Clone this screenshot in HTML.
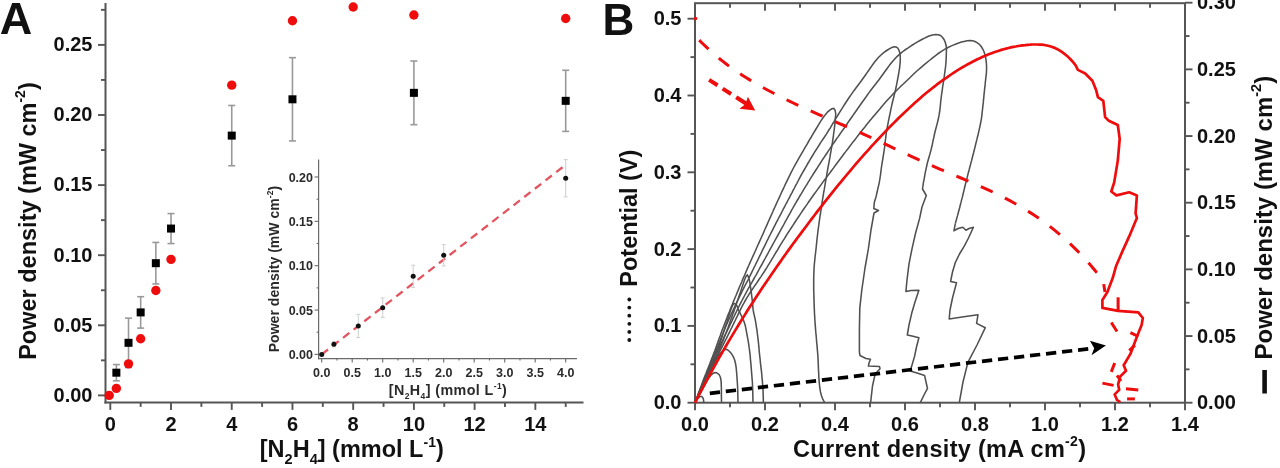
<!DOCTYPE html>
<html><head><meta charset="utf-8"><style>
html,body{margin:0;padding:0;background:#fff;}
svg{display:block;filter:blur(0.55px);font-family:"Liberation Sans",sans-serif;font-weight:bold;}
</style></head><body>
<svg width="1280" height="468" viewBox="0 0 1280 468">
<rect width="1280" height="468" fill="#fff"/>
<text x="-0.30" y="34.20" font-size="45" text-anchor="start" fill="#111" >A</text>
<line x1="105.50" y1="3.00" x2="105.50" y2="403.40" stroke="#555555" stroke-width="2.0" />
<line x1="104.50" y1="402.40" x2="583.50" y2="402.40" stroke="#555555" stroke-width="2.0" />
<line x1="98.00" y1="395.40" x2="105.50" y2="395.40" stroke="#555555" stroke-width="1.9" />
<text x="92.50" y="401.70" font-size="20" text-anchor="end" fill="#111" >0.00</text>
<line x1="101.00" y1="360.35" x2="105.50" y2="360.35" stroke="#555555" stroke-width="1.9" />
<line x1="98.00" y1="325.30" x2="105.50" y2="325.30" stroke="#555555" stroke-width="1.9" />
<text x="92.50" y="331.60" font-size="20" text-anchor="end" fill="#111" >0.05</text>
<line x1="101.00" y1="290.25" x2="105.50" y2="290.25" stroke="#555555" stroke-width="1.9" />
<line x1="98.00" y1="255.20" x2="105.50" y2="255.20" stroke="#555555" stroke-width="1.9" />
<text x="92.50" y="261.50" font-size="20" text-anchor="end" fill="#111" >0.10</text>
<line x1="101.00" y1="220.15" x2="105.50" y2="220.15" stroke="#555555" stroke-width="1.9" />
<line x1="98.00" y1="185.10" x2="105.50" y2="185.10" stroke="#555555" stroke-width="1.9" />
<text x="92.50" y="191.40" font-size="20" text-anchor="end" fill="#111" >0.15</text>
<line x1="101.00" y1="150.05" x2="105.50" y2="150.05" stroke="#555555" stroke-width="1.9" />
<line x1="98.00" y1="115.00" x2="105.50" y2="115.00" stroke="#555555" stroke-width="1.9" />
<text x="92.50" y="121.30" font-size="20" text-anchor="end" fill="#111" >0.20</text>
<line x1="101.00" y1="79.95" x2="105.50" y2="79.95" stroke="#555555" stroke-width="1.9" />
<line x1="98.00" y1="44.90" x2="105.50" y2="44.90" stroke="#555555" stroke-width="1.9" />
<text x="92.50" y="51.20" font-size="20" text-anchor="end" fill="#111" >0.25</text>
<line x1="101.00" y1="9.85" x2="105.50" y2="9.85" stroke="#555555" stroke-width="1.9" />
<line x1="110.30" y1="402.40" x2="110.30" y2="409.90" stroke="#555555" stroke-width="1.9" />
<text x="110.30" y="430.60" font-size="20" text-anchor="middle" fill="#111" >0</text>
<line x1="140.66" y1="402.40" x2="140.66" y2="406.90" stroke="#555555" stroke-width="1.9" />
<line x1="171.02" y1="402.40" x2="171.02" y2="409.90" stroke="#555555" stroke-width="1.9" />
<text x="171.02" y="430.60" font-size="20" text-anchor="middle" fill="#111" >2</text>
<line x1="201.38" y1="402.40" x2="201.38" y2="406.90" stroke="#555555" stroke-width="1.9" />
<line x1="231.74" y1="402.40" x2="231.74" y2="409.90" stroke="#555555" stroke-width="1.9" />
<text x="231.74" y="430.60" font-size="20" text-anchor="middle" fill="#111" >4</text>
<line x1="262.10" y1="402.40" x2="262.10" y2="406.90" stroke="#555555" stroke-width="1.9" />
<line x1="292.46" y1="402.40" x2="292.46" y2="409.90" stroke="#555555" stroke-width="1.9" />
<text x="292.46" y="430.60" font-size="20" text-anchor="middle" fill="#111" >6</text>
<line x1="322.82" y1="402.40" x2="322.82" y2="406.90" stroke="#555555" stroke-width="1.9" />
<line x1="353.18" y1="402.40" x2="353.18" y2="409.90" stroke="#555555" stroke-width="1.9" />
<text x="353.18" y="430.60" font-size="20" text-anchor="middle" fill="#111" >8</text>
<line x1="383.54" y1="402.40" x2="383.54" y2="406.90" stroke="#555555" stroke-width="1.9" />
<line x1="413.90" y1="402.40" x2="413.90" y2="409.90" stroke="#555555" stroke-width="1.9" />
<text x="413.90" y="430.60" font-size="20" text-anchor="middle" fill="#111" >10</text>
<line x1="444.26" y1="402.40" x2="444.26" y2="406.90" stroke="#555555" stroke-width="1.9" />
<line x1="474.62" y1="402.40" x2="474.62" y2="409.90" stroke="#555555" stroke-width="1.9" />
<text x="474.62" y="430.60" font-size="20" text-anchor="middle" fill="#111" >12</text>
<line x1="504.98" y1="402.40" x2="504.98" y2="406.90" stroke="#555555" stroke-width="1.9" />
<line x1="535.34" y1="402.40" x2="535.34" y2="409.90" stroke="#555555" stroke-width="1.9" />
<text x="535.34" y="430.60" font-size="20" text-anchor="middle" fill="#111" >14</text>
<line x1="565.70" y1="402.40" x2="565.70" y2="406.90" stroke="#555555" stroke-width="1.9" />
<text x="259.80" y="457.00" font-size="23.5" text-anchor="start" fill="#111" >[N<tspan dy="7" font-size="14.5">2</tspan><tspan dy="-7">H</tspan><tspan dy="7" font-size="14.5">4</tspan><tspan dy="-7">] (mmol L</tspan><tspan dy="-10.5" font-size="14">-1</tspan><tspan dy="10.5">)</tspan></text>
<text transform="translate(36.3,359.8) rotate(-90)" font-size="23.5" fill="#111">Power density (mW cm<tspan dy="-11" font-size="14">-2</tspan><tspan dy="11">)</tspan></text>
<line x1="116.37" y1="364.56" x2="116.37" y2="380.82" stroke="#999999" stroke-width="1.6" />
<line x1="112.87" y1="364.56" x2="119.87" y2="364.56" stroke="#999999" stroke-width="1.6" />
<line x1="112.87" y1="380.82" x2="119.87" y2="380.82" stroke="#999999" stroke-width="1.6" />
<line x1="128.52" y1="318.15" x2="128.52" y2="367.50" stroke="#999999" stroke-width="1.6" />
<line x1="125.02" y1="318.15" x2="132.02" y2="318.15" stroke="#999999" stroke-width="1.6" />
<line x1="125.02" y1="367.50" x2="132.02" y2="367.50" stroke="#999999" stroke-width="1.6" />
<line x1="140.66" y1="296.70" x2="140.66" y2="328.10" stroke="#999999" stroke-width="1.6" />
<line x1="137.16" y1="296.70" x2="144.16" y2="296.70" stroke="#999999" stroke-width="1.6" />
<line x1="137.16" y1="328.10" x2="144.16" y2="328.10" stroke="#999999" stroke-width="1.6" />
<line x1="155.84" y1="242.44" x2="155.84" y2="283.94" stroke="#999999" stroke-width="1.6" />
<line x1="152.34" y1="242.44" x2="159.34" y2="242.44" stroke="#999999" stroke-width="1.6" />
<line x1="152.34" y1="283.94" x2="159.34" y2="283.94" stroke="#999999" stroke-width="1.6" />
<line x1="171.02" y1="213.56" x2="171.02" y2="243.56" stroke="#999999" stroke-width="1.6" />
<line x1="167.52" y1="213.56" x2="174.52" y2="213.56" stroke="#999999" stroke-width="1.6" />
<line x1="167.52" y1="243.56" x2="174.52" y2="243.56" stroke="#999999" stroke-width="1.6" />
<line x1="231.74" y1="105.47" x2="231.74" y2="165.75" stroke="#999999" stroke-width="1.6" />
<line x1="228.24" y1="105.47" x2="235.24" y2="105.47" stroke="#999999" stroke-width="1.6" />
<line x1="228.24" y1="165.75" x2="235.24" y2="165.75" stroke="#999999" stroke-width="1.6" />
<line x1="292.46" y1="57.66" x2="292.46" y2="140.94" stroke="#999999" stroke-width="1.6" />
<line x1="288.96" y1="57.66" x2="295.96" y2="57.66" stroke="#999999" stroke-width="1.6" />
<line x1="288.96" y1="140.94" x2="295.96" y2="140.94" stroke="#999999" stroke-width="1.6" />
<line x1="413.90" y1="61.02" x2="413.90" y2="124.67" stroke="#999999" stroke-width="1.6" />
<line x1="410.40" y1="61.02" x2="417.40" y2="61.02" stroke="#999999" stroke-width="1.6" />
<line x1="410.40" y1="124.67" x2="417.40" y2="124.67" stroke="#999999" stroke-width="1.6" />
<line x1="565.70" y1="70.28" x2="565.70" y2="131.40" stroke="#999999" stroke-width="1.6" />
<line x1="562.20" y1="70.28" x2="569.20" y2="70.28" stroke="#999999" stroke-width="1.6" />
<line x1="562.20" y1="131.40" x2="569.20" y2="131.40" stroke="#999999" stroke-width="1.6" />
<circle cx="109.20" cy="395.40" r="4.7" fill="#ee0c0c"/>
<circle cx="116.37" cy="388.39" r="4.7" fill="#ee0c0c"/>
<circle cx="128.52" cy="363.85" r="4.7" fill="#ee0c0c"/>
<circle cx="140.66" cy="338.76" r="4.7" fill="#ee0c0c"/>
<circle cx="155.84" cy="290.53" r="4.7" fill="#ee0c0c"/>
<circle cx="171.02" cy="259.41" r="4.7" fill="#ee0c0c"/>
<circle cx="231.74" cy="85.14" r="4.7" fill="#ee0c0c"/>
<circle cx="292.46" cy="20.79" r="4.7" fill="#ee0c0c"/>
<circle cx="353.18" cy="7.05" r="4.7" fill="#ee0c0c"/>
<circle cx="413.90" cy="15.04" r="4.7" fill="#ee0c0c"/>
<circle cx="565.70" cy="18.54" r="4.7" fill="#ee0c0c"/>
<rect x="112.37" y="368.69" width="8" height="8" fill="#000"/>
<rect x="124.52" y="338.82" width="8" height="8" fill="#000"/>
<rect x="136.66" y="308.40" width="8" height="8" fill="#000"/>
<rect x="151.84" y="259.19" width="8" height="8" fill="#000"/>
<rect x="167.02" y="224.56" width="8" height="8" fill="#000"/>
<rect x="227.74" y="131.61" width="8" height="8" fill="#000"/>
<rect x="288.46" y="95.30" width="8" height="8" fill="#000"/>
<rect x="409.90" y="88.85" width="8" height="8" fill="#000"/>
<rect x="561.70" y="96.84" width="8" height="8" fill="#000"/>
<line x1="318.60" y1="159.50" x2="318.60" y2="359.20" stroke="#6a6a6a" stroke-width="1.2" />
<line x1="318.00" y1="358.60" x2="577.00" y2="358.60" stroke="#6a6a6a" stroke-width="1.2" />
<line x1="314.60" y1="354.40" x2="318.60" y2="354.40" stroke="#6a6a6a" stroke-width="1.1" />
<text x="313.00" y="358.90" font-size="12.5" text-anchor="end" fill="#2a2a2a" >0.00</text>
<line x1="316.60" y1="332.22" x2="318.60" y2="332.22" stroke="#6a6a6a" stroke-width="1.1" />
<line x1="314.60" y1="310.05" x2="318.60" y2="310.05" stroke="#6a6a6a" stroke-width="1.1" />
<text x="313.00" y="314.55" font-size="12.5" text-anchor="end" fill="#2a2a2a" >0.05</text>
<line x1="316.60" y1="287.88" x2="318.60" y2="287.88" stroke="#6a6a6a" stroke-width="1.1" />
<line x1="314.60" y1="265.70" x2="318.60" y2="265.70" stroke="#6a6a6a" stroke-width="1.1" />
<text x="313.00" y="270.20" font-size="12.5" text-anchor="end" fill="#2a2a2a" >0.10</text>
<line x1="316.60" y1="243.52" x2="318.60" y2="243.52" stroke="#6a6a6a" stroke-width="1.1" />
<line x1="314.60" y1="221.35" x2="318.60" y2="221.35" stroke="#6a6a6a" stroke-width="1.1" />
<text x="313.00" y="225.85" font-size="12.5" text-anchor="end" fill="#2a2a2a" >0.15</text>
<line x1="316.60" y1="199.17" x2="318.60" y2="199.17" stroke="#6a6a6a" stroke-width="1.1" />
<line x1="314.60" y1="177.00" x2="318.60" y2="177.00" stroke="#6a6a6a" stroke-width="1.1" />
<text x="313.00" y="181.50" font-size="12.5" text-anchor="end" fill="#2a2a2a" >0.20</text>
<line x1="321.70" y1="358.60" x2="321.70" y2="362.60" stroke="#6a6a6a" stroke-width="1.1" />
<text x="321.70" y="376.80" font-size="12.5" text-anchor="middle" fill="#2a2a2a" >0.0</text>
<line x1="336.95" y1="358.60" x2="336.95" y2="360.60" stroke="#6a6a6a" stroke-width="1.1" />
<line x1="352.20" y1="358.60" x2="352.20" y2="362.60" stroke="#6a6a6a" stroke-width="1.1" />
<text x="352.20" y="376.80" font-size="12.5" text-anchor="middle" fill="#2a2a2a" >0.5</text>
<line x1="367.45" y1="358.60" x2="367.45" y2="360.60" stroke="#6a6a6a" stroke-width="1.1" />
<line x1="382.70" y1="358.60" x2="382.70" y2="362.60" stroke="#6a6a6a" stroke-width="1.1" />
<text x="382.70" y="376.80" font-size="12.5" text-anchor="middle" fill="#2a2a2a" >1.0</text>
<line x1="397.95" y1="358.60" x2="397.95" y2="360.60" stroke="#6a6a6a" stroke-width="1.1" />
<line x1="413.20" y1="358.60" x2="413.20" y2="362.60" stroke="#6a6a6a" stroke-width="1.1" />
<text x="413.20" y="376.80" font-size="12.5" text-anchor="middle" fill="#2a2a2a" >1.5</text>
<line x1="428.45" y1="358.60" x2="428.45" y2="360.60" stroke="#6a6a6a" stroke-width="1.1" />
<line x1="443.70" y1="358.60" x2="443.70" y2="362.60" stroke="#6a6a6a" stroke-width="1.1" />
<text x="443.70" y="376.80" font-size="12.5" text-anchor="middle" fill="#2a2a2a" >2.0</text>
<line x1="458.95" y1="358.60" x2="458.95" y2="360.60" stroke="#6a6a6a" stroke-width="1.1" />
<line x1="474.20" y1="358.60" x2="474.20" y2="362.60" stroke="#6a6a6a" stroke-width="1.1" />
<text x="474.20" y="376.80" font-size="12.5" text-anchor="middle" fill="#2a2a2a" >2.5</text>
<line x1="489.45" y1="358.60" x2="489.45" y2="360.60" stroke="#6a6a6a" stroke-width="1.1" />
<line x1="504.70" y1="358.60" x2="504.70" y2="362.60" stroke="#6a6a6a" stroke-width="1.1" />
<text x="504.70" y="376.80" font-size="12.5" text-anchor="middle" fill="#2a2a2a" >3.0</text>
<line x1="519.95" y1="358.60" x2="519.95" y2="360.60" stroke="#6a6a6a" stroke-width="1.1" />
<line x1="535.20" y1="358.60" x2="535.20" y2="362.60" stroke="#6a6a6a" stroke-width="1.1" />
<text x="535.20" y="376.80" font-size="12.5" text-anchor="middle" fill="#2a2a2a" >3.5</text>
<line x1="550.45" y1="358.60" x2="550.45" y2="360.60" stroke="#6a6a6a" stroke-width="1.1" />
<line x1="565.70" y1="358.60" x2="565.70" y2="362.60" stroke="#6a6a6a" stroke-width="1.1" />
<text x="565.70" y="376.80" font-size="12.5" text-anchor="middle" fill="#2a2a2a" >4.0</text>
<text x="388.80" y="395.20" font-size="14.3" text-anchor="start" fill="#2a2a2a" textLength="118" lengthAdjust="spacing">[N<tspan dy="4" font-size="8.5">2</tspan><tspan dy="-4">H</tspan><tspan dy="4" font-size="8.5">4</tspan><tspan dy="-4">] (mmol L</tspan><tspan dy="-6" font-size="8.5">-1</tspan><tspan dy="6">)</tspan></text>
<text transform="translate(279.2,352.3) rotate(-90)" font-size="14" fill="#2a2a2a" textLength="166.5" lengthAdjust="spacing">Power density (mW cm<tspan dy="-6" font-size="8.5">-2</tspan><tspan dy="6">)</tspan></text>
<line x1="321.70" y1="354.40" x2="564.9" y2="165.4" stroke="#e25560" stroke-width="2.3" stroke-dasharray="8 5.5"/>
<line x1="333.90" y1="341.54" x2="333.90" y2="346.86" stroke="#d2d2d2" stroke-width="1.1" />
<line x1="331.90" y1="341.54" x2="335.90" y2="341.54" stroke="#d2d2d2" stroke-width="1.1" />
<line x1="331.90" y1="346.86" x2="335.90" y2="346.86" stroke="#d2d2d2" stroke-width="1.1" />
<line x1="358.30" y1="314.48" x2="358.30" y2="337.55" stroke="#d2d2d2" stroke-width="1.1" />
<line x1="356.30" y1="314.48" x2="360.30" y2="314.48" stroke="#d2d2d2" stroke-width="1.1" />
<line x1="356.30" y1="337.55" x2="360.30" y2="337.55" stroke="#d2d2d2" stroke-width="1.1" />
<line x1="382.70" y1="297.90" x2="382.70" y2="317.41" stroke="#d2d2d2" stroke-width="1.1" />
<line x1="380.70" y1="297.90" x2="384.70" y2="297.90" stroke="#d2d2d2" stroke-width="1.1" />
<line x1="380.70" y1="317.41" x2="384.70" y2="317.41" stroke="#d2d2d2" stroke-width="1.1" />
<line x1="413.20" y1="265.26" x2="413.20" y2="287.43" stroke="#d2d2d2" stroke-width="1.1" />
<line x1="411.20" y1="265.26" x2="415.20" y2="265.26" stroke="#d2d2d2" stroke-width="1.1" />
<line x1="411.20" y1="287.43" x2="415.20" y2="287.43" stroke="#d2d2d2" stroke-width="1.1" />
<line x1="443.70" y1="244.68" x2="443.70" y2="265.97" stroke="#d2d2d2" stroke-width="1.1" />
<line x1="441.70" y1="244.68" x2="445.70" y2="244.68" stroke="#d2d2d2" stroke-width="1.1" />
<line x1="441.70" y1="265.97" x2="445.70" y2="265.97" stroke="#d2d2d2" stroke-width="1.1" />
<line x1="565.70" y1="159.61" x2="565.70" y2="196.87" stroke="#d2d2d2" stroke-width="1.1" />
<line x1="563.70" y1="159.61" x2="567.70" y2="159.61" stroke="#d2d2d2" stroke-width="1.1" />
<line x1="563.70" y1="196.87" x2="567.70" y2="196.87" stroke="#d2d2d2" stroke-width="1.1" />
<circle cx="321.70" cy="354.40" r="2.5" fill="#111"/>
<circle cx="333.90" cy="344.20" r="2.5" fill="#111"/>
<circle cx="358.30" cy="326.02" r="2.5" fill="#111"/>
<circle cx="382.70" cy="307.66" r="2.5" fill="#111"/>
<circle cx="413.20" cy="276.34" r="2.5" fill="#111"/>
<circle cx="443.70" cy="255.32" r="2.5" fill="#111"/>
<circle cx="565.70" cy="178.24" r="2.5" fill="#111"/>
<text x="602.50" y="34.60" font-size="44" text-anchor="start" fill="#111" >B</text>
<line x1="687.50" y1="402.70" x2="695.00" y2="402.70" stroke="#555555" stroke-width="1.9" />
<text x="681.50" y="409.20" font-size="20" text-anchor="end" fill="#111" >0.0</text>
<line x1="690.50" y1="364.30" x2="695.00" y2="364.30" stroke="#555555" stroke-width="1.9" />
<line x1="687.50" y1="325.90" x2="695.00" y2="325.90" stroke="#555555" stroke-width="1.9" />
<text x="681.50" y="332.40" font-size="20" text-anchor="end" fill="#111" >0.1</text>
<line x1="690.50" y1="287.50" x2="695.00" y2="287.50" stroke="#555555" stroke-width="1.9" />
<line x1="687.50" y1="249.10" x2="695.00" y2="249.10" stroke="#555555" stroke-width="1.9" />
<text x="681.50" y="255.60" font-size="20" text-anchor="end" fill="#111" >0.2</text>
<line x1="690.50" y1="210.70" x2="695.00" y2="210.70" stroke="#555555" stroke-width="1.9" />
<line x1="687.50" y1="172.30" x2="695.00" y2="172.30" stroke="#555555" stroke-width="1.9" />
<text x="681.50" y="178.80" font-size="20" text-anchor="end" fill="#111" >0.3</text>
<line x1="690.50" y1="133.90" x2="695.00" y2="133.90" stroke="#555555" stroke-width="1.9" />
<line x1="687.50" y1="95.50" x2="695.00" y2="95.50" stroke="#555555" stroke-width="1.9" />
<text x="681.50" y="102.00" font-size="20" text-anchor="end" fill="#111" >0.4</text>
<line x1="690.50" y1="57.10" x2="695.00" y2="57.10" stroke="#555555" stroke-width="1.9" />
<line x1="687.50" y1="18.70" x2="695.00" y2="18.70" stroke="#555555" stroke-width="1.9" />
<text x="681.50" y="25.20" font-size="20" text-anchor="end" fill="#111" >0.5</text>
<line x1="695.00" y1="402.70" x2="695.00" y2="410.20" stroke="#555555" stroke-width="1.9" />
<line x1="695.00" y1="3.20" x2="695.00" y2="10.70" stroke="#555555" stroke-width="1.9" />
<text x="695.00" y="430.80" font-size="20" text-anchor="middle" fill="#111" >0.0</text>
<line x1="730.00" y1="402.70" x2="730.00" y2="407.20" stroke="#555555" stroke-width="1.9" />
<line x1="730.00" y1="3.20" x2="730.00" y2="7.70" stroke="#555555" stroke-width="1.9" />
<line x1="765.00" y1="402.70" x2="765.00" y2="410.20" stroke="#555555" stroke-width="1.9" />
<line x1="765.00" y1="3.20" x2="765.00" y2="10.70" stroke="#555555" stroke-width="1.9" />
<text x="765.00" y="430.80" font-size="20" text-anchor="middle" fill="#111" >0.2</text>
<line x1="800.00" y1="402.70" x2="800.00" y2="407.20" stroke="#555555" stroke-width="1.9" />
<line x1="800.00" y1="3.20" x2="800.00" y2="7.70" stroke="#555555" stroke-width="1.9" />
<line x1="835.00" y1="402.70" x2="835.00" y2="410.20" stroke="#555555" stroke-width="1.9" />
<line x1="835.00" y1="3.20" x2="835.00" y2="10.70" stroke="#555555" stroke-width="1.9" />
<text x="835.00" y="430.80" font-size="20" text-anchor="middle" fill="#111" >0.4</text>
<line x1="870.00" y1="402.70" x2="870.00" y2="407.20" stroke="#555555" stroke-width="1.9" />
<line x1="870.00" y1="3.20" x2="870.00" y2="7.70" stroke="#555555" stroke-width="1.9" />
<line x1="905.00" y1="402.70" x2="905.00" y2="410.20" stroke="#555555" stroke-width="1.9" />
<line x1="905.00" y1="3.20" x2="905.00" y2="10.70" stroke="#555555" stroke-width="1.9" />
<text x="905.00" y="430.80" font-size="20" text-anchor="middle" fill="#111" >0.6</text>
<line x1="940.00" y1="402.70" x2="940.00" y2="407.20" stroke="#555555" stroke-width="1.9" />
<line x1="940.00" y1="3.20" x2="940.00" y2="7.70" stroke="#555555" stroke-width="1.9" />
<line x1="975.00" y1="402.70" x2="975.00" y2="410.20" stroke="#555555" stroke-width="1.9" />
<line x1="975.00" y1="3.20" x2="975.00" y2="10.70" stroke="#555555" stroke-width="1.9" />
<text x="975.00" y="430.80" font-size="20" text-anchor="middle" fill="#111" >0.8</text>
<line x1="1010.00" y1="402.70" x2="1010.00" y2="407.20" stroke="#555555" stroke-width="1.9" />
<line x1="1010.00" y1="3.20" x2="1010.00" y2="7.70" stroke="#555555" stroke-width="1.9" />
<line x1="1045.00" y1="402.70" x2="1045.00" y2="410.20" stroke="#555555" stroke-width="1.9" />
<line x1="1045.00" y1="3.20" x2="1045.00" y2="10.70" stroke="#555555" stroke-width="1.9" />
<text x="1045.00" y="430.80" font-size="20" text-anchor="middle" fill="#111" >1.0</text>
<line x1="1080.00" y1="402.70" x2="1080.00" y2="407.20" stroke="#555555" stroke-width="1.9" />
<line x1="1080.00" y1="3.20" x2="1080.00" y2="7.70" stroke="#555555" stroke-width="1.9" />
<line x1="1115.00" y1="402.70" x2="1115.00" y2="410.20" stroke="#555555" stroke-width="1.9" />
<line x1="1115.00" y1="3.20" x2="1115.00" y2="10.70" stroke="#555555" stroke-width="1.9" />
<text x="1115.00" y="430.80" font-size="20" text-anchor="middle" fill="#111" >1.2</text>
<line x1="1150.00" y1="402.70" x2="1150.00" y2="407.20" stroke="#555555" stroke-width="1.9" />
<line x1="1150.00" y1="3.20" x2="1150.00" y2="7.70" stroke="#555555" stroke-width="1.9" />
<line x1="1185.00" y1="402.70" x2="1185.00" y2="410.20" stroke="#555555" stroke-width="1.9" />
<line x1="1185.00" y1="3.20" x2="1185.00" y2="10.70" stroke="#555555" stroke-width="1.9" />
<text x="1185.00" y="430.80" font-size="20" text-anchor="middle" fill="#111" >1.4</text>
<line x1="1185.00" y1="402.70" x2="1192.50" y2="402.70" stroke="#555555" stroke-width="1.9" />
<text x="1197.00" y="409.20" font-size="20" text-anchor="start" fill="#111" >0.00</text>
<line x1="1185.00" y1="369.37" x2="1189.50" y2="369.37" stroke="#555555" stroke-width="1.9" />
<line x1="1185.00" y1="336.03" x2="1192.50" y2="336.03" stroke="#555555" stroke-width="1.9" />
<text x="1197.00" y="342.53" font-size="20" text-anchor="start" fill="#111" >0.05</text>
<line x1="1185.00" y1="302.70" x2="1189.50" y2="302.70" stroke="#555555" stroke-width="1.9" />
<line x1="1185.00" y1="269.37" x2="1192.50" y2="269.37" stroke="#555555" stroke-width="1.9" />
<text x="1197.00" y="275.87" font-size="20" text-anchor="start" fill="#111" >0.10</text>
<line x1="1185.00" y1="236.03" x2="1189.50" y2="236.03" stroke="#555555" stroke-width="1.9" />
<line x1="1185.00" y1="202.70" x2="1192.50" y2="202.70" stroke="#555555" stroke-width="1.9" />
<text x="1197.00" y="209.20" font-size="20" text-anchor="start" fill="#111" >0.15</text>
<line x1="1185.00" y1="169.37" x2="1189.50" y2="169.37" stroke="#555555" stroke-width="1.9" />
<line x1="1185.00" y1="136.03" x2="1192.50" y2="136.03" stroke="#555555" stroke-width="1.9" />
<text x="1197.00" y="142.53" font-size="20" text-anchor="start" fill="#111" >0.20</text>
<line x1="1185.00" y1="102.70" x2="1189.50" y2="102.70" stroke="#555555" stroke-width="1.9" />
<line x1="1185.00" y1="69.37" x2="1192.50" y2="69.37" stroke="#555555" stroke-width="1.9" />
<text x="1197.00" y="75.87" font-size="20" text-anchor="start" fill="#111" >0.25</text>
<line x1="1185.00" y1="36.03" x2="1189.50" y2="36.03" stroke="#555555" stroke-width="1.9" />
<line x1="1185.00" y1="2.70" x2="1192.50" y2="2.70" stroke="#555555" stroke-width="1.9" />
<text x="1197.00" y="9.20" font-size="20" text-anchor="start" fill="#111" >0.30</text>
<rect x="695.0" y="3.2" width="490.0" height="399.5" fill="none" stroke="#555555" stroke-width="2.0"/>
<text x="793.00" y="456.70" font-size="23.5" text-anchor="start" fill="#111" textLength="293" lengthAdjust="spacing">Current density (mA cm<tspan dy="-10.5" font-size="14">-2</tspan><tspan dy="10.5">)</tspan></text>
<text transform="translate(636.8,286.7) rotate(-90)" font-size="23.5" fill="#111">Potential (V)</text>
<circle cx="629.3" cy="299.50" r="1.9" fill="#111"/>
<circle cx="629.3" cy="307.60" r="1.9" fill="#111"/>
<circle cx="629.3" cy="315.70" r="1.9" fill="#111"/>
<circle cx="629.3" cy="323.80" r="1.9" fill="#111"/>
<circle cx="629.3" cy="331.90" r="1.9" fill="#111"/>
<circle cx="629.3" cy="340.00" r="1.9" fill="#111"/>
<text transform="translate(1272,359.5) rotate(-90)" font-size="24" fill="#111">Power density (mW cm<tspan dy="-11" font-size="14.5">-2</tspan><tspan dy="11">)</tspan></text>
<rect x="1262.3" y="370" width="4.6" height="23.5" fill="#111"/>
<path d="M695.0,402.7 L695.9,400.3 L696.8,397.9 L697.6,395.5 L698.5,393.1 L699.4,390.7 L700.3,388.3 L701.2,385.9 L702.1,383.5 L703.0,381.0 L703.9,378.6 L704.9,376.1 L705.9,373.7 L706.8,371.2 L707.8,368.7 L708.8,366.2 L709.8,363.7 L710.8,361.1 L711.8,358.6 L712.8,356.0 L713.7,353.5 L714.7,351.0 L715.6,348.5 L716.5,345.9 L717.4,343.4 L718.3,340.8 L719.2,338.2 L720.2,335.7 L721.1,333.1 L722.0,330.5 L723.0,328.0 L723.9,325.7 L724.8,323.3 L725.7,321.0 L726.6,318.7 L727.5,316.4 L728.4,314.0 L729.4,311.7 L730.3,309.4 L731.2,307.1 L732.2,304.7 L733.1,302.4 L734.1,300.0 L735.0,297.7 L736.0,295.5 L736.9,293.2 L737.9,290.9 L738.8,288.6 L739.8,286.3 L740.8,284.0 L741.8,281.7 L742.7,279.4 L743.7,277.1 L744.8,274.7 L745.8,272.4 L746.8,270.0 L747.8,267.6 L748.9,265.3 L749.9,262.9 L751.0,260.5 L752.1,258.0 L753.2,255.6 L754.3,253.2 L755.4,250.7 L756.5,248.3 L757.6,245.8 L758.7,243.4 L759.8,240.9 L760.9,238.5 L762.0,236.0 L763.1,233.6 L764.1,231.2 L765.2,228.8 L766.3,226.4 L767.4,223.9 L768.4,221.5 L769.5,219.1 L770.6,216.6 L771.7,214.2 L772.8,211.8 L773.8,209.4 L774.9,207.0 L776.0,204.6 L777.0,202.3 L778.1,200.0 L779.2,197.6 L780.3,195.2 L781.4,192.8 L782.5,190.4 L783.6,188.1 L784.7,185.7 L785.8,183.4 L786.9,181.1 L788.0,178.8 L789.1,176.6 L790.2,174.4 L791.3,172.2 L792.4,170.0 L793.7,167.5 L795.0,165.1 L796.4,162.7 L797.7,160.3 L799.1,157.9 L800.4,155.6 L801.7,153.3 L803.0,151.1 L804.3,148.9 L805.6,146.7 L807.0,144.3 L808.3,142.0 L809.6,139.7 L811.0,137.5 L812.2,135.3 L813.5,133.1 L814.8,131.0 L816.0,129.0 L817.6,126.4 L819.1,123.8 L820.6,121.4 L822.1,119.1 L823.6,117.0 L825.6,114.4 L827.5,112.1 L829.5,110.3 L831.8,108.8 L833.8,108.4 L835.0,110.0 L835.6,112.5 L835.7,114.7 L835.5,117.2 L835.2,120.0 L835.0,122.2 L834.8,124.6 L834.5,127.2 L834.2,129.8 L833.8,132.5 L833.5,135.0 L833.1,137.8 L832.7,140.6 L832.3,143.3 L831.8,146.2 L831.3,149.2 L830.9,151.6 L830.4,154.2 L830.0,156.9 L829.5,159.6 L829.0,162.3 L828.5,164.9 L828.0,167.5 L827.6,170.0 L827.1,172.6 L826.7,175.2 L826.3,177.7 L825.8,180.1 L825.4,182.5 L825.0,185.0 L824.6,187.5 L824.2,189.9 L823.7,192.4 L823.3,194.8 L822.9,197.4 L822.5,200.0 L822.1,202.4 L821.7,204.9 L821.4,207.4 L821.0,210.0 L820.6,212.6 L820.2,215.1 L819.8,217.6 L819.5,220.0 L819.1,222.6 L818.8,225.2 L818.4,227.6 L818.1,230.1 L817.8,232.5 L817.5,235.0 L817.2,237.5 L816.9,240.0 L816.7,242.5 L816.4,245.0 L816.2,247.5 L815.9,250.0 L815.6,252.5 L815.3,255.0 L815.0,257.5 L814.8,260.0 L814.5,262.5 L814.3,265.0 L814.1,267.5 L814.0,269.9 L813.9,272.4 L813.8,274.8 L813.7,277.4 L813.7,280.0 L813.7,282.4 L813.7,284.8 L813.7,287.3 L813.7,289.8 L813.8,292.3 L813.9,294.9 L813.9,297.4 L814.0,300.0 L814.1,302.7 L814.2,305.4 L814.3,308.2 L814.4,310.9 L814.5,313.7 L814.7,316.4 L814.8,319.1 L815.0,321.7 L815.2,324.4 L815.4,327.1 L815.6,329.7 L815.8,332.4 L816.1,335.0 L816.3,337.5 L816.5,340.0 L816.7,342.6 L817.0,345.1 L817.2,347.6 L817.4,350.1 L817.6,352.5 L817.8,355.0 L818.0,357.5 L818.1,360.1 L818.2,362.6 L818.3,365.1 L818.4,367.6 L818.5,370.0 L818.7,373.1 L818.8,376.2 L819.0,379.1 L819.2,382.0 L819.5,384.6 L819.7,387.2 L820.1,389.7 L820.5,392.0 L821.4,395.4 L822.5,398.5 L823.6,400.7 L824.7,402.7" fill="none" stroke="#505050" stroke-width="1.55"/>
<path d="M695.0,402.7 L696.0,400.2 L697.0,397.7 L698.0,395.2 L698.9,392.7 L699.9,390.2 L700.9,387.7 L701.9,385.2 L702.9,382.6 L704.0,380.0 L704.9,377.8 L705.8,375.5 L706.8,373.2 L707.7,370.8 L708.7,368.5 L709.6,366.1 L710.6,363.7 L711.6,361.4 L712.5,359.0 L713.5,356.6 L714.5,354.3 L715.4,352.0 L716.4,349.6 L717.3,347.2 L718.3,344.8 L719.2,342.5 L720.2,340.1 L721.1,337.7 L722.1,335.4 L723.0,333.0 L724.0,330.7 L725.0,328.4 L726.0,326.0 L727.0,323.6 L728.1,321.3 L729.1,318.9 L730.2,316.6 L731.2,314.3 L732.3,311.9 L733.4,309.6 L734.5,307.2 L735.6,304.8 L736.7,302.4 L737.9,300.0 L739.0,297.8 L740.1,295.5 L741.2,293.3 L742.3,291.0 L743.5,288.7 L744.6,286.4 L745.8,284.1 L747.0,281.8 L748.2,279.5 L749.3,277.1 L750.5,274.8 L751.7,272.4 L752.9,270.0 L754.0,267.7 L755.1,265.5 L756.2,263.2 L757.4,260.9 L758.5,258.5 L759.6,256.2 L760.8,253.8 L761.9,251.5 L763.0,249.1 L764.2,246.8 L765.4,244.4 L766.5,242.0 L767.7,239.7 L768.8,237.3 L770.0,235.0 L771.2,232.7 L772.4,230.3 L773.6,227.9 L774.8,225.6 L776.0,223.2 L777.2,220.9 L778.4,218.5 L779.7,216.1 L780.9,213.8 L782.1,211.5 L783.3,209.1 L784.5,206.8 L785.7,204.5 L786.9,202.3 L788.1,200.0 L789.4,197.6 L790.6,195.2 L791.9,192.8 L793.1,190.4 L794.4,188.0 L795.6,185.6 L796.9,183.3 L798.1,181.0 L799.3,178.7 L800.5,176.4 L801.7,174.2 L802.9,172.1 L804.1,170.0 L805.5,167.6 L806.8,165.3 L808.1,163.0 L809.4,160.8 L810.7,158.6 L812.0,156.5 L813.3,154.3 L814.6,152.2 L816.0,150.0 L817.4,147.8 L818.9,145.5 L820.3,143.2 L821.8,140.9 L823.3,138.7 L824.8,136.5 L826.2,134.3 L827.6,132.1 L828.9,130.0 L830.3,127.8 L831.6,125.6 L832.9,123.4 L834.2,121.3 L835.4,119.2 L836.7,117.1 L838.0,115.0 L839.3,112.8 L840.7,110.6 L842.1,108.4 L843.5,106.2 L844.9,104.0 L846.2,102.0 L847.5,100.0 L849.3,97.3 L851.0,94.9 L852.7,92.4 L854.5,90.0 L856.3,87.5 L858.2,85.0 L860.1,82.5 L861.9,80.0 L863.7,77.5 L865.5,75.0 L867.3,72.4 L869.0,70.0 L870.5,67.8 L872.0,65.6 L873.5,63.5 L875.0,61.5 L876.9,59.2 L878.9,57.0 L881.0,55.0 L883.1,53.2 L885.3,51.5 L887.5,50.0 L890.1,48.4 L892.5,47.3 L894.3,46.8 L896.0,46.9 L897.5,47.9 L898.7,49.5 L899.7,52.4 L900.2,56.0 L900.3,58.3 L900.2,60.8 L900.1,63.3 L899.8,66.0 L899.5,68.7 L899.0,71.6 L898.5,74.5 L898.0,77.3 L897.5,80.0 L897.0,82.6 L896.5,85.1 L896.0,87.5 L895.5,90.0 L894.9,92.4 L894.3,94.9 L893.7,97.3 L893.0,100.0 L892.4,102.5 L891.8,105.1 L891.2,107.8 L890.6,110.6 L890.1,113.3 L889.5,116.0 L888.9,118.9 L888.3,121.8 L887.8,124.6 L887.2,127.6 L886.7,130.6 L886.3,133.2 L885.9,136.0 L885.6,138.8 L885.2,141.7 L884.9,144.6 L884.6,147.3 L884.2,150.0 L883.8,152.6 L883.4,155.1 L883.0,157.6 L882.6,160.1 L882.2,162.5 L881.8,165.0 L881.4,167.5 L881.1,170.0 L880.8,172.4 L880.5,174.9 L880.1,177.5 L879.7,180.0 L879.2,182.8 L878.6,185.6 L877.9,188.4 L877.3,191.3 L876.6,194.2 L876.0,197.0" fill="none" stroke="#505050" stroke-width="1.55"/>
<path d="M695.0,402.7 L696.0,400.3 L697.0,398.0 L697.9,395.7 L698.9,393.3 L699.9,391.0 L700.9,388.6 L701.9,386.3 L702.9,383.9 L703.9,381.5 L705.0,379.0 L706.0,376.7 L707.1,374.3 L708.1,371.9 L709.2,369.5 L710.3,367.0 L711.4,364.5 L712.5,362.1 L713.6,359.6 L714.7,357.2 L715.8,354.7 L716.9,352.3 L718.0,350.0 L719.1,347.7 L720.2,345.3 L721.3,343.0 L722.4,340.8 L723.5,338.5 L724.5,336.2 L725.6,334.0 L726.7,331.8 L727.8,329.5 L728.9,327.3 L730.0,325.0 L731.1,322.7 L732.2,320.5 L733.2,318.2 L734.3,316.0 L735.4,313.7 L736.5,311.5 L737.6,309.2 L738.7,307.0 L739.8,304.7 L741.0,302.3 L742.2,300.0 L743.4,297.8 L744.6,295.5 L745.8,293.3 L747.0,291.0 L748.3,288.7 L749.6,286.4 L750.9,284.1 L752.2,281.8 L753.5,279.5 L754.8,277.1 L756.2,274.8 L757.5,272.4 L758.8,270.0 L760.0,267.7 L761.3,265.5 L762.6,263.2 L763.8,260.9 L765.1,258.5 L766.4,256.2 L767.7,253.8 L768.9,251.5 L770.2,249.1 L771.5,246.8 L772.8,244.4 L774.1,242.0 L775.4,239.7 L776.7,237.3 L778.0,235.0 L779.2,232.8 L780.4,230.6 L781.6,228.4 L782.9,226.2 L784.1,224.0 L785.3,221.7 L786.5,219.5 L787.7,217.3 L788.9,215.1 L790.2,212.9 L791.4,210.7 L792.6,208.5 L793.8,206.4 L795.1,204.2 L796.3,202.1 L797.5,200.0 L798.8,197.8 L800.1,195.5 L801.5,193.3 L802.8,191.1 L804.1,188.9 L805.5,186.7 L806.8,184.6 L808.1,182.4 L809.4,180.3 L810.7,178.2 L812.0,176.1 L813.3,174.0 L814.6,172.0 L815.9,170.0 L817.3,167.8 L818.7,165.6 L820.1,163.5 L821.4,161.4 L822.8,159.3 L824.1,157.3 L825.5,155.2 L826.9,153.2 L828.2,151.1 L829.6,149.1 L831.0,147.0 L832.4,144.9 L833.9,142.8 L835.3,140.7 L836.7,138.6 L838.2,136.6 L839.7,134.5 L841.1,132.4 L842.6,130.3 L844.1,128.2 L845.5,126.1 L847.0,124.0 L848.5,121.8 L850.1,119.5 L851.7,117.2 L853.3,114.9 L855.0,112.5 L856.6,110.2 L858.1,108.0 L859.7,105.8 L861.1,103.7 L862.5,101.8 L863.8,100.0 L865.8,97.2 L867.5,94.7 L869.2,92.4 L871.0,90.0 L872.5,88.0 L874.1,86.0 L875.7,84.0 L877.2,82.0 L878.8,80.0 L880.6,77.5 L882.4,75.0 L884.2,72.5 L886.0,70.0 L887.5,68.0 L889.0,65.9 L890.6,63.8 L892.1,61.9 L893.8,60.0 L895.6,58.0 L897.5,56.1 L899.5,54.3 L901.5,52.6 L903.5,51.0 L905.6,49.5 L907.8,48.1 L910.0,46.6 L912.4,45.0 L915.0,43.4 L917.5,41.9 L920.0,40.5 L922.3,39.3 L924.6,38.1 L926.8,37.0 L929.0,36.1 L932.5,35.0 L935.8,34.5 L938.3,34.7 L940.5,35.5 L942.4,37.2 L944.0,39.5 L945.3,42.5 L946.2,46.0 L946.5,48.8 L946.4,51.8 L946.3,55.0 L946.2,57.5 L946.1,60.1 L945.9,62.7 L945.7,65.4 L945.4,68.0 L945.0,71.0 L944.6,73.9 L944.2,76.9 L943.8,80.0 L943.4,82.4 L943.0,84.8 L942.6,87.2 L942.3,89.8 L941.9,92.3 L941.5,95.0 L941.2,97.4 L940.9,100.0 L940.6,102.6 L940.4,105.3 L940.1,108.0 L939.8,110.6 L939.4,113.2 L939.0,115.7 L938.4,118.5 L937.8,121.3 L937.1,123.9 L936.4,126.6 L935.7,129.3 L935.0,132.0 L934.4,134.5 L933.9,137.1 L933.3,139.7 L932.7,142.4 L932.2,145.0 L931.6,147.5 L931.0,150.0 L930.3,152.6 L929.6,155.1 L928.9,157.5 L928.2,160.0 L927.5,162.5 L926.9,165.0 L926.3,167.8 L925.7,170.6 L925.1,173.4 L924.6,176.3 L924.1,179.2 L923.5,182.0" fill="none" stroke="#505050" stroke-width="1.55"/>
<path d="M695.0,402.7 L696.0,400.4 L697.0,398.0 L697.9,395.7 L698.9,393.4 L699.8,391.0 L700.8,388.7 L701.8,386.4 L702.8,384.0 L703.8,381.7 L704.9,379.3 L706.0,377.0 L707.1,374.8 L708.3,372.5 L709.4,370.2 L710.7,368.0 L711.9,365.7 L713.1,363.5 L714.4,361.2 L715.7,358.9 L716.9,356.7 L718.1,354.5 L719.3,352.2 L720.5,350.0 L721.7,347.7 L722.9,345.4 L724.0,343.1 L725.1,340.9 L726.3,338.6 L727.4,336.3 L728.5,334.1 L729.6,331.8 L730.7,329.5 L731.9,327.3 L733.0,325.0 L734.1,322.7 L735.2,320.5 L736.3,318.2 L737.4,316.0 L738.5,313.7 L739.6,311.5 L740.7,309.2 L741.8,306.9 L743.0,304.6 L744.3,302.3 L745.6,300.0 L746.8,297.9 L748.1,295.8 L749.4,293.7 L750.8,291.6 L752.2,289.5 L753.6,287.4 L755.1,285.3 L756.6,283.1 L758.0,281.0 L759.5,278.8 L761.0,276.6 L762.4,274.4 L763.9,272.2 L765.3,270.0 L766.7,267.8 L768.0,265.6 L769.4,263.4 L770.8,261.1 L772.1,258.9 L773.5,256.6 L774.8,254.3 L776.2,252.0 L777.6,249.8 L778.9,247.5 L780.3,245.2 L781.7,242.9 L783.1,240.6 L784.6,238.3 L786.0,236.0 L787.3,233.9 L788.7,231.8 L790.1,229.6 L791.5,227.5 L792.9,225.3 L794.3,223.2 L795.7,221.0 L797.1,218.9 L798.6,216.7 L800.0,214.6 L801.5,212.4 L802.9,210.3 L804.3,208.2 L805.8,206.1 L807.2,204.1 L808.6,202.0 L810.0,200.0 L811.6,197.7 L813.2,195.5 L814.8,193.3 L816.4,191.1 L818.0,188.9 L819.6,186.7 L821.1,184.6 L822.7,182.4 L824.3,180.3 L825.9,178.2 L827.4,176.1 L829.0,174.1 L830.5,172.0 L832.0,170.0 L833.6,167.9 L835.1,165.8 L836.6,163.8 L838.1,161.8 L839.6,159.8 L841.1,157.8 L842.6,155.8 L844.0,153.8 L845.5,151.9 L847.0,149.9 L848.5,148.0 L850.0,146.0 L851.6,143.9 L853.2,141.8 L854.9,139.7 L856.5,137.6 L858.1,135.5 L859.7,133.4 L861.4,131.3 L863.0,129.2 L864.7,127.2 L866.3,125.1 L868.0,123.0 L869.6,121.0 L871.3,119.0 L872.9,117.0 L874.7,114.9 L876.4,112.9 L878.1,110.9 L879.8,108.9 L881.4,106.9 L883.1,105.1 L884.6,103.3 L886.1,101.6 L887.5,100.0 L889.6,97.7 L891.5,95.7 L893.3,93.8 L895.1,91.9 L897.0,90.0 L899.1,88.0 L901.1,86.0 L903.3,84.0 L905.4,82.0 L907.5,80.0 L909.6,78.0 L911.6,76.0 L913.7,74.0 L915.8,72.0 L918.0,70.0 L920.0,68.3 L922.0,66.6 L924.0,64.9 L926.1,63.2 L928.1,61.5 L930.0,60.0 L932.3,58.1 L934.6,56.3 L936.8,54.6 L939.0,53.0 L941.8,51.1 L944.6,49.4 L947.5,47.8 L950.3,46.4 L953.2,45.1 L956.0,44.0 L958.7,43.0 L961.4,42.1 L964.0,41.4 L967.1,40.7 L970.0,40.5 L972.6,40.8 L975.0,41.5 L977.4,42.8 L979.5,44.5 L981.4,46.8 L983.0,49.5 L984.0,51.8 L984.8,54.3 L985.5,57.0 L986.0,59.6 L986.3,62.3 L986.5,65.2 L986.6,68.0 L986.5,71.0 L986.3,74.0 L985.9,77.1 L985.6,80.0 L985.3,82.5 L985.1,84.9 L984.8,87.4 L984.5,90.0 L984.3,92.3 L984.0,94.7 L983.8,97.3 L983.5,99.8 L983.3,102.4 L983.0,105.0 L982.7,107.7 L982.4,110.4 L982.1,113.1 L981.8,115.8 L981.4,118.7 L980.9,121.6 L980.4,124.0 L979.9,126.6 L979.3,129.2 L978.7,131.8 L978.1,134.5 L977.4,137.2 L976.8,139.9 L976.1,142.5 L975.5,145.0 L974.9,147.6 L974.2,150.2 L973.6,152.7 L972.9,155.2 L972.3,157.7 L971.7,160.2 L971.0,162.6 L970.4,165.0 L969.7,167.5 L969.1,170.0 L968.4,172.5 L967.8,174.9 L967.2,177.4 L966.6,179.7 L966.0,182.0 L965.3,184.7 L964.7,187.2 L964.1,189.8 L963.5,192.3 L962.9,194.9 L962.3,197.4 L961.6,199.9 L961.0,202.4 L960.3,205.0 L959.7,207.5 L959.0,210.0 L958.3,212.7 L957.6,215.4 L956.8,218.1 L956.1,220.7 L955.4,223.4" fill="none" stroke="#505050" stroke-width="1.55"/>
<path d="M876.00,197.00 L874.40,202.00 L873.80,208.50 L878.50,210.50 L874.00,213.00 L871.00,230.00 L868.40,248.70 L865.00,268.00 L861.80,290.00 L859.80,307.80 L859.40,330.00 L859.40,352.00 L860.00,355.50 L866.00,358.50 L870.50,359.30 L869.00,363.00 L868.40,366.10 L874.00,366.30 L879.50,366.50 L880.00,368.70 L877.00,372.00 L874.80,375.50 L872.50,386.00 L870.60,402.70" fill="none" stroke="#505050" stroke-width="1.55" stroke-linejoin="round"/>
<path d="M923.50,182.00 L922.50,189.00 L926.30,195.50 L922.00,207.00 L919.50,218.90 L915.60,233.00 L912.00,248.80 L909.00,263.80 L907.00,280.00 L905.90,291.50 L911.00,290.50 L918.90,290.20 L915.00,302.00 L911.70,313.30 L909.00,325.00 L907.30,335.00 L912.00,336.00 L918.90,337.80 L916.50,347.00 L914.50,356.60 L912.00,365.00 L910.20,371.00 L917.00,373.00 L924.60,375.40 L926.00,382.00 L927.50,388.40 L924.00,395.00 L920.30,402.70" fill="none" stroke="#505050" stroke-width="1.55" stroke-linejoin="round"/>
<path d="M955.40,223.40 L953.90,230.80 L958.00,228.50 L962.90,227.20 L965.90,230.20 L969.00,228.50 L973.40,227.20 L968.50,238.00 L964.40,245.80 L959.50,254.00 L955.40,262.30 L952.50,272.00 L950.60,281.50 L956.50,282.80 L952.50,298.00 L950.00,310.00 L949.20,319.00 L962.00,317.00 L978.00,314.70 L976.60,323.40 L985.30,327.70 L977.00,345.00 L967.90,362.40 L963.00,382.00 L959.30,402.70" fill="none" stroke="#505050" stroke-width="1.55" stroke-linejoin="round"/>
<path d="M695.0,402.7 L696.0,401.1 L697.0,399.5 L698.1,398.1 L699.3,397.0 L700.4,396.5 L701.5,396.5 L702.3,397.1 L703.0,398.0 L703.4,399.2 L703.6,400.5 L703.7,401.6 L703.8,402.7" fill="none" stroke="#505050" stroke-width="1.55"/>
<path d="M695.0,402.7 L696.2,400.3 L697.5,397.8 L698.7,395.4 L700.0,393.0 L701.2,390.7 L702.5,388.4 L703.7,386.2 L705.0,384.0 L706.5,381.5 L708.0,379.1 L709.5,377.0 L711.2,375.0 L713.0,373.5 L714.5,372.8 L716.0,372.6 L717.6,373.3 L719.0,374.5 L720.1,376.5 L720.8,379.0 L721.2,382.4 L721.3,386.0 L721.4,388.6 L721.4,391.3 L721.4,394.0 L721.4,396.9 L721.5,399.8 L721.5,402.7" fill="none" stroke="#505050" stroke-width="1.55"/>
<path d="M695.0,402.7 L696.3,400.2 L697.6,397.7 L698.9,395.1 L700.2,392.6 L701.5,390.0 L702.6,387.7 L703.7,385.3 L704.8,383.0 L705.8,380.6 L706.9,378.3 L708.0,376.0 L709.2,373.5 L710.4,371.0 L711.6,368.6 L712.8,366.3 L714.0,364.0 L715.3,361.6 L716.5,359.2 L717.7,357.0 L719.0,355.0 L721.0,352.4 L723.0,350.5 L724.7,349.5 L726.5,349.3 L728.6,350.5 L730.5,352.5 L732.1,354.6 L733.5,357.0 L734.7,360.3 L735.6,364.0 L736.1,367.0 L736.4,370.2 L736.7,373.5 L736.9,376.2 L737.1,379.0 L737.3,381.9 L737.5,385.0 L737.6,387.3 L737.7,389.8 L737.8,392.3 L737.8,394.9 L737.9,397.5 L737.9,400.1 L738.0,402.7" fill="none" stroke="#505050" stroke-width="1.55"/>
<path d="M695.0,402.7 L696.1,400.4 L697.3,398.1 L698.4,395.8 L699.5,393.5 L700.7,391.1 L701.8,388.8 L702.9,386.4 L704.0,384.0 L705.0,381.6 L706.1,379.3 L707.1,376.8 L708.1,374.4 L709.1,371.9 L710.1,369.4 L711.1,366.9 L712.0,364.5 L713.0,362.0 L713.9,359.6 L714.9,357.1 L715.8,354.6 L716.7,352.2 L717.6,349.7 L718.5,347.3 L719.3,344.8 L720.2,342.4 L721.0,340.0 L721.9,337.4 L722.7,334.8 L723.6,332.2 L724.4,329.6 L725.2,327.1 L726.0,324.6 L726.8,322.3 L727.5,320.0 L728.4,317.3 L729.2,314.7 L730.0,312.2 L730.7,310.0 L731.5,308.0 L732.7,305.1 L734.0,303.5 L735.3,303.9 L736.5,305.0 L737.6,307.3 L738.5,310.0 L740.0,312.9 L741.5,316.0 L742.5,318.2 L743.6,320.5 L744.5,323.0 L745.3,325.7 L745.9,328.7 L746.5,331.8 L747.1,335.0 L747.5,337.4 L748.0,339.8 L748.4,342.3 L748.8,344.8 L749.1,347.4 L749.5,350.0 L749.8,352.4 L750.1,354.9 L750.3,357.4 L750.5,360.0 L750.8,362.6 L751.0,365.1 L751.2,367.6 L751.4,370.0 L751.6,372.6 L751.8,375.1 L752.0,377.6 L752.2,380.0 L752.4,382.5 L752.5,385.0 L752.6,387.5 L752.7,389.9 L752.8,392.5 L752.8,395.0 L752.9,397.6 L752.9,400.2 L753.0,402.7" fill="none" stroke="#505050" stroke-width="1.55"/>
<path d="M695.0,402.7 L696.2,400.4 L697.5,398.1 L698.7,395.9 L700.0,393.6 L701.2,391.3 L702.4,389.1 L703.7,386.7 L704.8,384.4 L706.0,382.0 L707.1,379.7 L708.1,377.4 L709.1,375.0 L710.1,372.6 L711.1,370.2 L712.1,367.7 L713.1,365.3 L714.0,362.9 L715.0,360.4 L716.0,358.0 L717.0,355.5 L718.0,353.0 L719.0,350.5 L720.1,348.0 L721.1,345.5 L722.1,343.0 L723.1,340.5 L724.1,338.0 L725.0,335.5 L726.0,333.0 L726.9,330.5 L727.9,328.0 L728.8,325.4 L729.7,322.9 L730.7,320.3 L731.6,317.8 L732.4,315.3 L733.3,312.8 L734.2,310.4 L735.0,308.0 L735.9,305.5 L736.7,303.0 L737.6,300.5 L738.4,298.0 L739.2,295.7 L740.0,293.4 L740.8,291.1 L741.5,289.0 L742.6,285.7 L743.6,282.5 L744.6,279.7 L745.5,277.5 L746.4,275.8 L747.3,275.0 L748.2,276.4 L749.0,279.0 L749.6,281.4 L750.1,284.1 L750.5,287.0 L750.9,289.6 L751.3,292.3 L751.6,295.1 L752.0,298.0 L752.3,300.8 L752.6,303.7 L752.8,306.6 L753.1,309.4 L753.5,312.0 L754.1,314.7 L754.7,317.2 L755.3,320.0 L755.7,322.3 L756.1,324.9 L756.5,327.6 L757.0,330.4 L757.3,333.2 L757.7,336.0 L758.0,338.6 L758.3,341.3 L758.6,344.0 L758.8,346.7 L759.1,349.5 L759.3,352.2 L759.6,355.0 L759.9,357.5 L760.2,360.0 L760.4,362.6 L760.7,365.1 L761.0,367.7 L761.3,370.2 L761.6,372.6 L761.8,375.0 L762.0,377.6 L762.3,380.2 L762.5,382.7 L762.7,385.2 L762.9,387.6 L763.0,390.0 L763.1,392.6 L763.2,395.2 L763.3,397.7 L763.3,400.2 L763.4,402.7" fill="none" stroke="#505050" stroke-width="1.55"/>
<path d="M699.20,40.09 L702.54,43.45 L705.88,46.69 L709.22,49.80 L712.56,52.80 L715.90,55.70 L719.24,58.48 L722.58,61.17 L725.92,63.76 L729.26,66.27 L732.60,68.68 L735.94,71.02 L739.28,73.28 L742.62,75.47 L745.96,77.59 L749.31,79.65 L752.65,81.66 L755.99,83.61 L759.33,85.52 L762.67,87.39 L766.01,89.22 L769.35,91.01 L772.69,92.77 L776.03,94.50 L779.37,96.20 L782.71,97.87 L786.05,99.51 L789.39,101.13 L792.73,102.73 L796.07,104.30 L799.41,105.86 L802.75,107.39 L806.09,108.91 L809.43,110.41 L812.77,111.90 L816.11,113.38 L819.45,114.85 L822.79,116.31 L826.13,117.77 L829.47,119.21 L832.81,120.66 L836.15,122.11 L839.49,123.55 L842.83,125.00 L846.17,126.45 L849.52,127.90 L852.86,129.37 L856.20,130.84 L859.54,132.32 L862.88,133.82 L866.22,135.32 L869.56,136.85 L872.90,138.38 L876.24,139.93 L879.58,141.49 L882.92,143.05 L886.26,144.62 L889.60,146.20 L892.94,147.77 L896.28,149.35 L899.62,150.93 L902.96,152.50 L906.30,154.07 L909.64,155.63 L912.98,157.18 L916.32,158.72 L919.66,160.25 L923.00,161.77 L926.34,163.26 L929.68,164.74 L933.02,166.20 L936.36,167.65 L939.70,169.07 L943.04,170.49 L946.38,171.90 L949.73,173.30 L953.07,174.70 L956.41,176.10 L959.75,177.50 L963.09,178.90 L966.43,180.31 L969.77,181.74 L973.11,183.17 L976.45,184.63 L979.79,186.10 L983.13,187.59 L986.47,189.11 L989.81,190.66 L993.15,192.24 L996.49,193.85 L999.83,195.49 L1003.17,197.18 L1006.51,198.90 L1009.85,200.67 L1013.19,202.49 L1016.53,204.36 L1019.87,206.28 L1023.21,208.25 L1026.55,210.29 L1029.89,212.38 L1033.23,214.55 L1036.57,216.78 L1039.91,219.08 L1043.25,221.46 L1046.59,223.92 L1049.94,226.46 L1053.28,229.08 L1056.62,231.80 L1059.96,234.61 L1063.30,237.51 L1066.64,240.51 L1069.98,243.62 L1073.32,246.83 L1076.66,250.15 L1080.00,253.58 L1083.34,257.13 L1086.68,260.79 L1090.02,264.58 L1093.36,268.49 L1096.70,272.54 L1101.00,277.00 L1103.50,283.00 L1105.00,292.00" fill="none" stroke="#ee0c0c" stroke-width="3" stroke-dasharray="13 13.6"/>
<circle cx="695.6" cy="18.6" r="1.8" fill="#ee0c0c"/>
<line x1="1118.10" y1="297.30" x2="1118.10" y2="311.20" stroke="#ee0c0c" stroke-width="3" />
<line x1="1111.30" y1="322.50" x2="1117.00" y2="331.50" stroke="#ee0c0c" stroke-width="3" />
<line x1="1130.40" y1="332.60" x2="1138.30" y2="336.50" stroke="#ee0c0c" stroke-width="3" />
<line x1="1129.30" y1="350.60" x2="1134.90" y2="345.20" stroke="#ee0c0c" stroke-width="3" />
<line x1="1111.30" y1="371.90" x2="1114.70" y2="363.00" stroke="#ee0c0c" stroke-width="3" />
<line x1="1117.00" y1="375.30" x2="1121.00" y2="381.00" stroke="#ee0c0c" stroke-width="3" />
<line x1="1102.40" y1="383.10" x2="1113.60" y2="385.40" stroke="#ee0c0c" stroke-width="3" />
<line x1="1126.00" y1="388.80" x2="1138.30" y2="389.90" stroke="#ee0c0c" stroke-width="3" />
<line x1="1127.10" y1="398.90" x2="1134.90" y2="398.90" stroke="#ee0c0c" stroke-width="3" />
<path d="M695.0,402.8 L697.4,398.1 L699.8,393.5 L702.2,388.9 L704.6,384.4 L707.0,379.9 L709.4,375.5 L711.8,371.1 L714.1,366.8 L716.5,362.5 L718.9,358.2 L721.3,354.0 L723.7,349.8 L726.1,345.7 L728.5,341.6 L730.9,337.6 L733.3,333.6 L735.7,329.6 L738.1,325.7 L740.5,321.8 L742.9,317.9 L745.3,314.1 L747.6,310.3 L750.0,306.6 L752.4,302.9 L754.8,299.2 L757.2,295.5 L759.6,291.9 L762.0,288.3 L764.4,284.7 L766.8,281.2 L769.2,277.7 L771.6,274.2 L774.0,270.7 L776.4,267.3 L778.8,263.9 L781.2,260.5 L783.5,257.1 L785.9,253.8 L788.3,250.4 L790.7,247.1 L793.1,243.8 L795.5,240.6 L797.9,237.3 L800.3,234.1 L802.7,230.9 L805.1,227.7 L807.5,224.5 L809.9,221.3 L812.3,218.2 L814.7,215.0 L817.0,211.9 L819.4,208.8 L821.8,205.8 L824.2,202.7 L826.6,199.7 L829.0,196.6 L831.4,193.6 L833.8,190.6 L836.2,187.7 L838.6,184.7 L841.0,181.8 L843.4,178.9 L845.8,176.0 L848.2,173.2 L850.6,170.3 L852.9,167.5 L855.3,164.7 L857.7,161.9 L860.1,159.2 L862.5,156.4 L864.9,153.7 L867.3,151.1 L869.7,148.4 L872.1,145.7 L874.5,143.1 L876.9,140.5 L879.3,138.0 L881.7,135.4 L884.1,132.9 L886.4,130.4 L888.8,127.9 L891.2,125.5 L893.6,123.1 L896.0,120.7 L898.4,118.3 L900.8,116.0 L903.2,113.7 L905.6,111.4 L908.0,109.2 L910.4,106.9 L912.8,104.8 L915.2,102.6 L917.6,100.5 L919.9,98.4 L922.3,96.3 L924.7,94.3 L927.1,92.3 L929.5,90.4 L931.9,88.5 L934.3,86.6 L936.7,84.7 L939.1,82.9 L941.5,81.2 L943.9,79.4 L946.3,77.8 L948.7,76.1 L951.1,74.5 L953.5,72.9 L955.8,71.4 L958.2,69.9 L960.6,68.4 L963.0,67.0 L965.4,65.6 L967.8,64.3 L970.2,63.0 L972.6,61.7 L975.0,60.5 L977.4,59.3 L979.8,58.2 L982.2,57.1 L984.6,56.1 L987.0,55.0 L989.3,54.1 L991.7,53.2 L994.1,52.3 L996.5,51.5 L998.9,50.7 L1001.3,49.9 L1003.7,49.2 L1006.1,48.6 L1008.5,48.0 L1010.9,47.4 L1013.3,46.9 L1015.7,46.5 L1018.1,46.0 L1020.5,45.7 L1022.9,45.3 L1025.2,45.1 L1027.6,44.8 L1030.0,44.7 L1032.4,44.5 L1034.8,44.5 L1037.2,44.5 L1039.6,44.6 L1042.0,44.7 L1044.4,45.0 L1046.8,45.5 L1049.2,46.0 L1051.6,46.8 L1054.0,47.6 L1056.4,48.7 L1058.7,49.9 L1061.1,51.4 L1063.5,53.1 L1065.9,55.0 L1068.3,57.1 L1070.7,59.5 L1073.1,62.2 L1075.5,65.2 L1077.9,69.9 L1085.2,73.5 L1092.4,80.8 L1096.1,89.9 L1097.9,97.1 L1103.3,100.8 L1105.1,117.1 L1108.8,120.7 L1117.8,125.0 L1119.7,138.9 L1117.8,160.6 L1114.2,182.4 L1111.3,191.5 L1116.4,195.4 L1129.2,192.3 L1136.9,195.4 L1135.6,213.3 L1136.9,218.0 L1129.2,236.4 L1122.4,251.4 L1116.0,266.3 L1112.7,278.1 L1107.4,292.0 L1102.4,300.0 L1102.4,307.9 L1118.1,310.8 L1138.3,312.4 L1142.8,318.0 L1141.7,324.7 L1137.2,336.0 L1130.4,353.9 L1123.7,365.2 L1126.0,370.8 L1120.3,376.4 L1118.1,384.3 L1119.2,389.9 L1114.7,394.4 L1117.0,400.0 L1120.3,402.2" fill="none" stroke="#ee0c0c" stroke-width="2.7" stroke-linejoin="round"/>
<line x1="709.1" y1="79.9" x2="747.5" y2="104.5" stroke="#ee0c0c" stroke-width="4" stroke-dasharray="10 6.1 10 6.1 30 10"/>
<polygon points="755.2,110.6 747.9,96.8 745.3,104.3 739.4,108.8" fill="#ee0c0c"/>
<line x1="709.8" y1="393.3" x2="1089.5" y2="348.7" stroke="#000" stroke-width="3.7" stroke-dasharray="10.3 5.82"/>
<polygon points="1105.9,345.6 1089.9,340.8 1094.2,348.3 1091.5,355.2" fill="#000"/>
</svg>
</body></html>
